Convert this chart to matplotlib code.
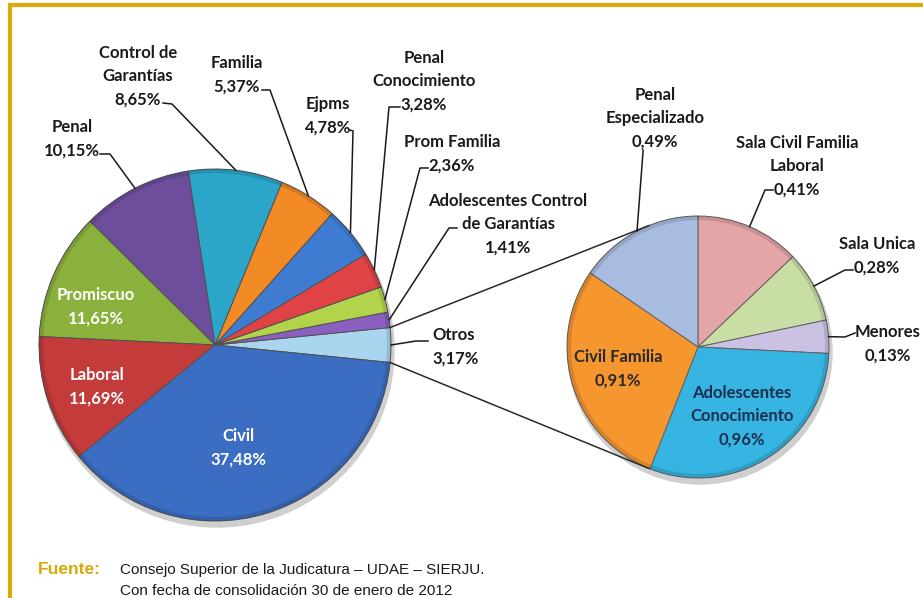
import matplotlib.pyplot as plt
import numpy as np
from matplotlib.patches import Circle

W, H = 923, 598

main_labels = ["Otros", "Adolescentes Control\nde Garantías", "Prom Familia",
               "Penal\nConocimiento", "Ejpms", "Familia", "Control de\nGarantías",
               "Penal", "Promiscuo", "Laboral", "Civil"]
main_values = [3.17, 1.41, 2.36, 3.28, 4.78, 5.37, 8.65, 10.15, 11.65, 11.69, 37.48]
main_colors = ["#a9d6ee", "#8a5fbf", "#b2d34a", "#e04345", "#3f7bd0", "#f28a26",
               "#2ba5c8", "#6e4e9c", "#8bb13d", "#c43b3b", "#3b6ec3"]

sub_labels = ["Sala Civil Familia\nLaboral", "Sala Unica", "Menores",
              "Adolescentes\nConocimiento", "Civil Familia", "Penal\nEspecializado"]
sub_values = [0.41, 0.28, 0.13, 0.96, 0.91, 0.49]
sub_colors = ["#e4a5a6", "#c9dea5", "#cbc1e2", "#36b5e3", "#f6962f", "#a7bce0"]


def fmt(name, v):
    return name + "\n" + ("%.2f%%" % v).replace(".", ",")


def py(y):
    # pixel y (desde arriba) -> y de datos
    return H - y


fig = plt.figure(figsize=(9.23, 5.98), dpi=100)
ax = fig.add_axes([0, 0, 1, 1])

mc = (215, py(345))
mr = 176
sc = (698, py(347))
sr = 131

# sombras
ax.add_patch(Circle((mc[0] + 2, mc[1] - 5), mr + 1, color="#cfcfcf", zorder=0))
ax.add_patch(Circle((sc[0] + 2, sc[1] - 5), sr + 1, color="#cfcfcf", zorder=0))

start = -main_values[0] / sum(main_values) * 360 / 2
wm, _ = ax.pie(main_values, colors=main_colors, startangle=start, counterclock=True,
               center=mc, radius=mr,
               wedgeprops=dict(edgecolor="#505050", linewidth=0.7))
ws, _ = ax.pie(sub_values, colors=sub_colors, startangle=90, counterclock=False,
               center=sc, radius=sr,
               wedgeprops=dict(edgecolor="#606060", linewidth=0.7))

for c, r in [(mc, mr), (sc, sr)]:
    ax.add_patch(Circle(c, r - 2, fill=False, edgecolor="black", alpha=0.12, lw=3, zorder=3))


def edge_pt(w, c, r):
    a = np.deg2rad((w.theta1 + w.theta2) / 2)
    return c[0] + r * np.cos(a), c[1] + r * np.sin(a)


def pt_at(c, r, ang):
    a = np.deg2rad(ang)
    return c[0] + r * np.cos(a), c[1] + r * np.sin(a)


FONT = ["Lato", "DejaVu Sans"]
FS = 12
LS = 1.55

# etiquetas externas: indice -> (x, y, ha, ancla, codo)
main_out = {
    0: (432, 347, "left", (428, 341), (416, 341)),
    1: (508, 224, "center", (457, 228), (449, 228)),
    2: (452, 154, "center", (428, 168), (420, 168)),
    3: (424, 81, "center", (400, 107), (389, 107)),
    4: (328, 116, "center", (350, 130), (353, 131)),
    5: (237, 75, "center", (262, 90), (270, 90)),
    6: (138, 76, "center", (163, 103), (172, 104)),
    7: (72, 139, "center", (100, 154), (110, 154)),
}
main_in = {8: (96, 307), 9: (97, 387), 10: (238, 448)}

sub_out = {
    0: (797, 166, "center", (773, 190), (765, 190)),
    1: (877, 256, "center", (853, 270), (845, 270)),
    2: (888, 344, "center", (855, 333), (845, 337)),
    5: (655, 118, "center", (643, 150), (643, 152)),
}
sub_in = {4: (618, 369, "#2a2a2a"), 3: (742, 416, "#1d2f4f")}


def draw_out(wedges, labels, values, c, r, spec):
    for i, (x, y, ha, anc, elb) in spec.items():
        ax.text(x, py(y), fmt(labels[i], values[i]), ha=ha, va="center",
                fontsize=FS, fontweight="bold", family=FONT, color="#1a1a1a",
                linespacing=LS, zorder=5)
        ex, ey = edge_pt(wedges[i], c, r)
        ax.plot([anc[0], elb[0], ex], [py(anc[1]), py(elb[1]), ey],
                color="#1a1a1a", lw=1.1, zorder=4)


draw_out(wm, main_labels, main_values, mc, mr, main_out)
draw_out(ws, sub_labels, sub_values, sc, sr, sub_out)

for i, (x, y) in main_in.items():
    ax.text(x, py(y), fmt(main_labels[i], main_values[i]), ha="center", va="center",
            fontsize=FS, fontweight="bold", family=FONT, color="white",
            linespacing=LS, zorder=5)
for i, (x, y, col) in sub_in.items():
    ax.text(x, py(y), fmt(sub_labels[i], sub_values[i]), ha="center", va="center",
            fontsize=FS, fontweight="bold", family=FONT, color=col,
            linespacing=LS, zorder=5)

# lineas de union entre las dos tortas
otros = wm[0]
for th_main, th_sub in [(otros.theta2, 112), (otros.theta1, -112)]:
    p1 = pt_at(mc, mr, th_main)
    p2 = pt_at(sc, sr, th_sub)
    ax.plot([p1[0], p2[0]], [p1[1], p2[1]], color="#2a2a2a", lw=1.1, zorder=4)

# marco dorado
gold = "#d9aa0b"
ax.plot([10, 10, W], [0, py(5), py(5)], color=gold, lw=3, solid_joinstyle="miter",
        clip_on=False, zorder=6)

# fuente
ax.text(38, py(570), "Fuente:", ha="left", va="center", fontsize=12.5,
        fontweight="bold", family=["Liberation Sans", "DejaVu Sans"], color=gold)
ax.text(120, py(570), "Consejo Superior de la Judicatura – UDAE – SIERJU.",
        ha="left", va="center", fontsize=11,
        family=["Liberation Sans", "DejaVu Sans"], color="#1a1a1a")
ax.text(120, py(591), "Con fecha de consolidación 30 de enero de 2012",
        ha="left", va="center", fontsize=11,
        family=["Liberation Sans", "DejaVu Sans"], color="#1a1a1a")

ax.set_xlim(0, W)
ax.set_ylim(0, H)
ax.set_aspect("equal")
ax.axis("off")

fig.savefig("out.png", dpi=100)
